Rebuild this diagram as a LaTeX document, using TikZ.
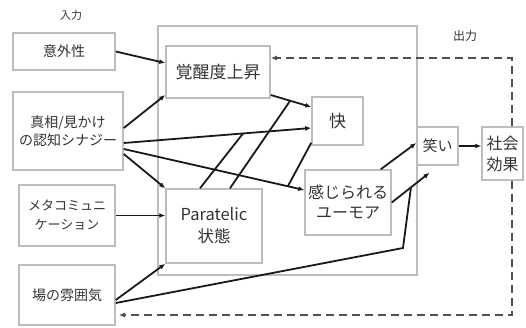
\documentclass[tikz,border=0pt]{standalone}
\usepackage{fontspec}
\newfontfamily\jp{Noto Sans CJK JP}
\usetikzlibrary{arrows.meta,calc}
\definecolor{boxgray}{HTML}{BDBDBD}
\definecolor{txt}{HTML}{333333}
\definecolor{dashgray}{HTML}{505050}
\tikzset{
  box/.style={draw=boxgray, line width=1.5pt, inner sep=0pt, align=center, text=txt},
  arr/.style={line width=1.8pt, color=black!90, -{Latex[length=6pt,width=5pt]}},
  ln/.style={line width=1.8pt, color=black!90},
  dsh/.style={line width=2pt, color=dashgray, dash pattern=on 8pt off 5pt, -{Latex[length=6pt,width=5pt]}},
  lbl/.style={text=txt, inner sep=0pt}
}
\begin{document}
\begin{tikzpicture}[x=1pt,y=-1pt]
\useasboundingbox (0,0) rectangle (526,328);
% container
\node[box, minimum width=259pt, minimum height=249pt] (cont) at (287.5,150.5) {};
% labels
\node[lbl, font=\jp\fontsize{11}{13}\selectfont] (lin) at (71,15) {入力};
\node[lbl, font=\jp\fontsize{12}{14}\selectfont] (lout) at (465,36) {出力};
% input boxes
\node[box, font=\jp\fontsize{14}{18}\selectfont, minimum width=102pt, minimum height=37pt] (igai) at (64,51.5) {意外性};
\node[box, minimum width=110pt, minimum height=78pt, font=\jp\fontsize{14}{18}\selectfont] (shinso) at (68,131) {真相/見かけ\\の認知シナジー};
\node[box, minimum width=96pt, minimum height=61pt, font=\jp\fontsize{13}{19}\selectfont] (meta) at (67,215.5) {メタコミュニ\\ケーション};
\node[box, font=\jp\fontsize{14}{18}\selectfont, minimum width=96pt, minimum height=60pt] (ba) at (67,295) {場の雰囲気};
% inner boxes
\node[box, font=\jp\fontsize{17}{20}\selectfont, minimum width=104pt, minimum height=52pt] (kakusei) at (218,72) {覚醒度上昇};
\node[box, font=\jp\fontsize{17}{20}\selectfont, minimum width=51pt, minimum height=48pt] (kai) at (337.5,121) {快};
\node[box, minimum width=86pt, minimum height=65pt, font=\jp\fontsize{16}{20}\selectfont] (kanji) at (348,202.5) {感じられる\\ユーモア};
\node[box, minimum width=96pt, minimum height=74pt, font=\jp\fontsize{16.5}{22}\selectfont] (para) at (214,226) {Paratelic\\状態};
% outputs
\node[box, font=\jp\fontsize{15}{18}\selectfont, minimum width=41pt, minimum height=38pt] (warai) at (437.5,146) {笑い};
\node[box, minimum width=41pt, minimum height=53pt, font=\jp\fontsize{16}{21}\selectfont] (shakai) at (502.5,153.5) {社会\\効果};
% merge points
\coordinate (m1) at (243,133.5);
\coordinate (m2) at (290,101);
\coordinate (m3) at (288,186);
\coordinate (m4) at (403,248);
\coordinate (m5) at (411,187);
% arrows
\draw[arr] (igai.east) -- ([yshift=9pt]kakusei.west);
\draw[arr] ([yshift=3pt]shinso.east) -- ([yshift=-23pt]kakusei.west);
\draw[arr] ([yshift=-12pt]shinso.east) -- ([yshift=-7pt]kai.west);
\draw[arr] ([yshift=-18pt]shinso.east) -- ([yshift=12.5pt]kanji.west);
\draw[arr] ([yshift=-23pt]shinso.east) -- (para.north west);
\draw[arr] (meta.east) -- (meta.east -| para.west);
\draw[arr] ([yshift=-5pt]ba.east) -- (para.south west);
\draw[arr] ([yshift=-23pt]kakusei.east) -- ([yshift=14pt]kai.west);
\draw[ln] ([xshift=16pt]para.north) -- (m2);
\draw[ln] ([xshift=-14pt]para.north) -- (m1);
\draw[ln] ([yshift=3pt]kai.south west) -- (m3);
\draw[arr] ([xshift=-11pt]kanji.north east) -- ([yshift=3pt]warai.west);
\draw[arr] (kanji.east) -- ([xshift=-8pt,yshift=-7pt]warai.south);
\draw[ln] ([yshift=-8pt]ba.east) -- (m4) -- (m5);
\draw[arr] (warai.east) -- (warai.east -| shakai.west);
% feedback
\draw[dsh] ([xshift=9.5pt]shakai.north) |- ([yshift=14pt]kakusei.east);
\draw[dsh] ([xshift=9.5pt]shakai.south) |- ([yshift=-20pt,xshift=3pt]ba.east);
\end{tikzpicture}
\end{document}
